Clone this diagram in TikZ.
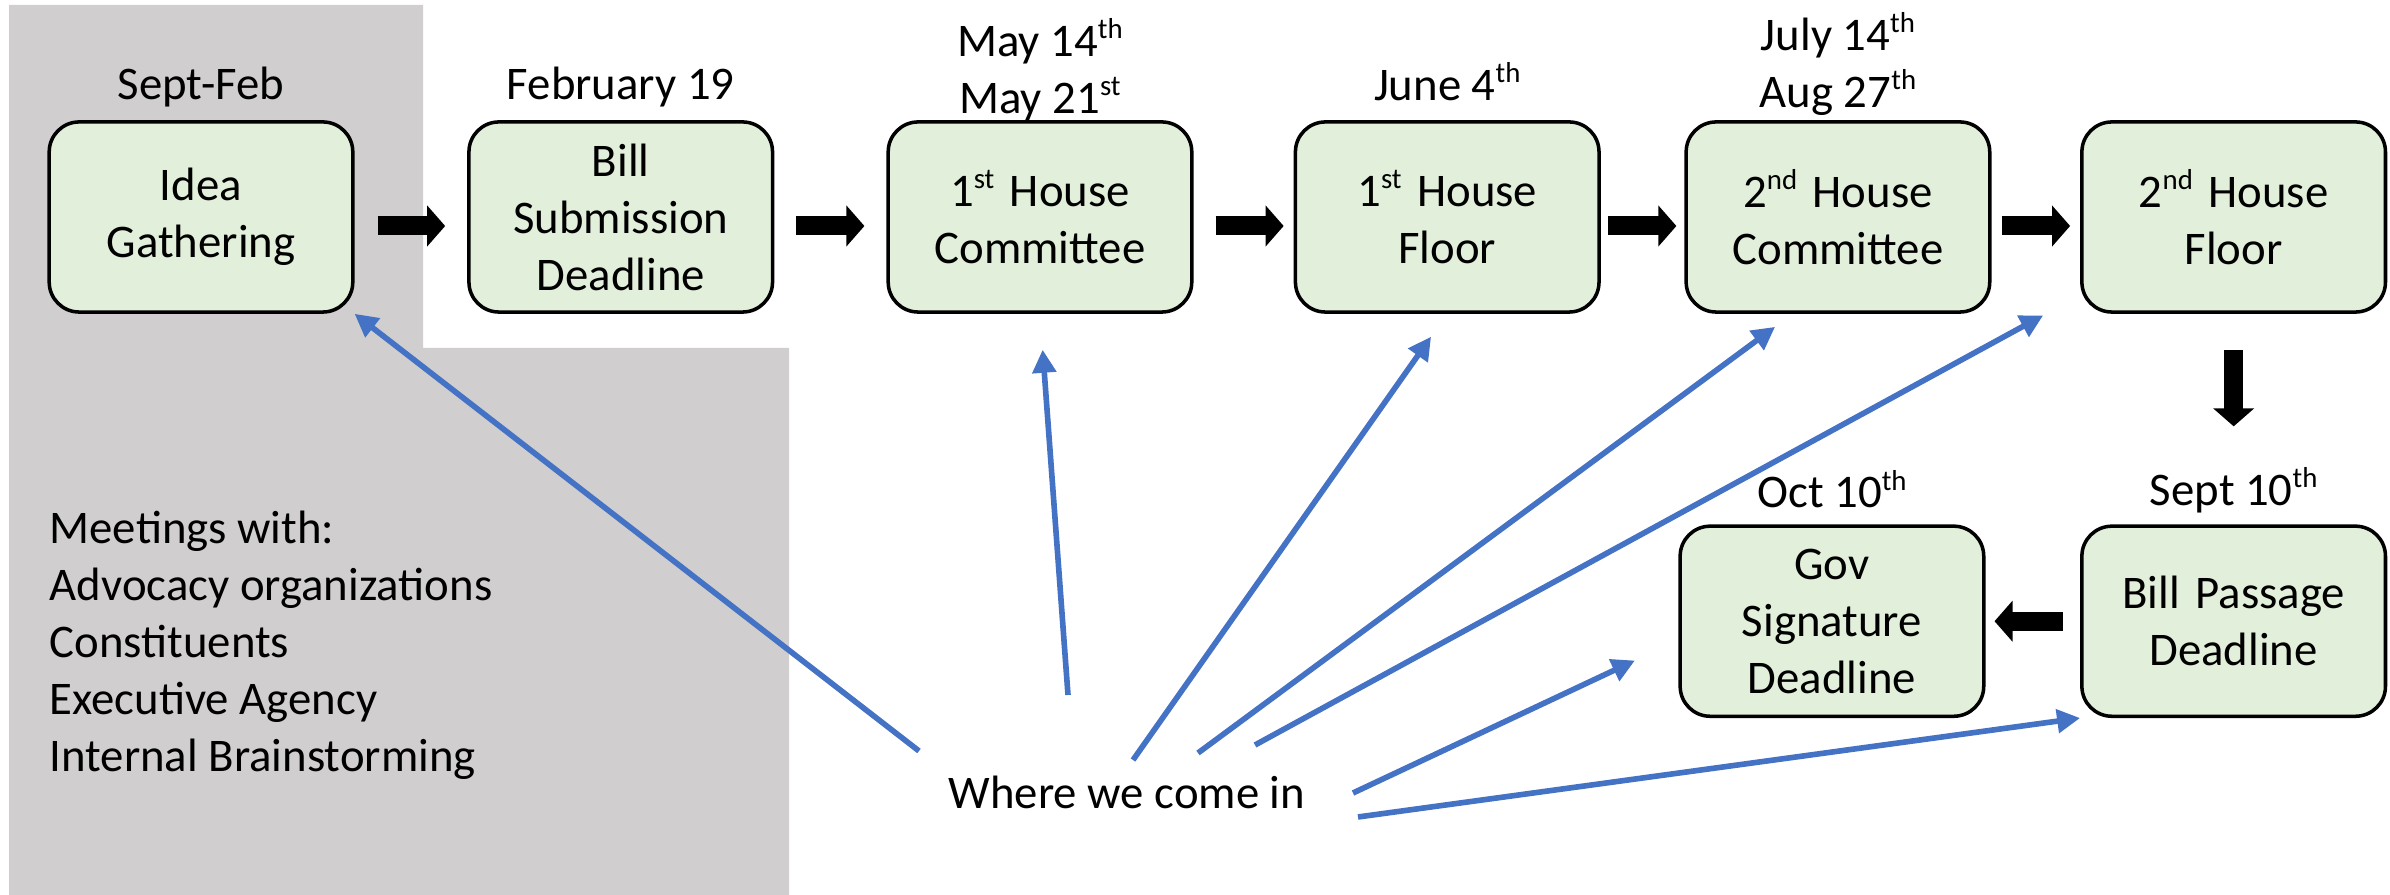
\documentclass[tikz,border=0pt]{standalone}
\usepackage{fontspec}
\setmainfont{Carlito}
\usetikzlibrary{arrows.meta}

\newcommand{\ordsup}[1]{\raisebox{0.8ex}{\fontsize{8.2}{8.2}\selectfont #1}}

\begin{document}
\begin{tikzpicture}[x=0.01cm, y=-0.01cm, node distance=4.2cm, font=\fontsize{13.3}{16.2}\selectfont]

	\definecolor{my_green_light}{RGB}{226,239,218}
\definecolor{my_gray_light}{RGB}{208,206,206}
\definecolor{my_blue}{RGB}{68,114,196}

\tikzstyle{block} = [rectangle, draw=black, line width=1pt, fill=my_green_light, text width=2.8cm, align=center, rounded corners=0.3cm, minimum width=2.94cm, minimum height=1.9cm]
\tikzstyle{datelabel} = [align=center]
\tikzstyle{notetext} = [align=left, inner sep=0pt]
\tikzstyle{step_arrow} = [draw, line width=0.19cm, -{Triangle[width=0.4cm, length=0.18cm]}]
\tikzstyle{entry_arrow} = [draw=my_blue, line width=1.6pt, -{Triangle[width=0.23cm, length=0.23cm]}]

	\useasboundingbox (0,0) rectangle (2390,895);

	% grey area behind the idea phase
	\fill[my_gray_light] (9,5) -- (423,5) -- (423,348) -- (789,348) -- (789,895) -- (9,895) -- cycle;

	\node [block] (idea) at (201,217) {Idea\\Gathering};
	\node [block, right of=idea, node distance=4.195cm] (bill) {Bill\\Submission\\Deadline};
	\node [block, right of=bill, node distance=4.19cm] (comm1) {1\ordsup{st} House\\Committee};
	\node [block, right of=comm1, node distance=4.07cm] (floor1) {1\ordsup{st} House\\Floor};
	\node [block, right of=floor1, node distance=3.905cm] (comm2) {2\ordsup{nd} House\\Committee};
	\node [block, right of=comm2, node distance=3.955cm] (floor2) {2\ordsup{nd} House\\Floor};
	\node [block, below of=floor2, node distance=4.04cm] (passage) {Bill Passage\\Deadline};
	\node [block, left of=passage, node distance=4.015cm] (gov) {Gov\\Signature\\Deadline};

	\node [datelabel, above of=idea, node distance=1.3cm] (d_idea) {Sept-Feb};
	\node [datelabel, above of=bill, node distance=1.3cm] (d_bill) {February 19};
	\node [datelabel, above of=comm1, node distance=1.47cm] (d_comm1) {May 14\ordsup{th}\\May 21\ordsup{st}};
	\node [datelabel, above of=floor1, node distance=1.35cm] (d_floor1) {June 4\ordsup{th}};
	\node [datelabel, above of=comm2, node distance=1.53cm] (d_comm2) {July 14\ordsup{th}\\Aug 27\ordsup{th}};
	\node [datelabel, above of=gov, node distance=1.32cm] (d_gov) {Oct 10\ordsup{th}};
	\node [datelabel, above of=passage, node distance=1.31cm] (d_passage) {Sept 10\ordsup{th}};

	\node [notetext, anchor=north west] (meetings) at (49,510) {Meetings with:\\Advocacy organizations\\Constituents\\Executive Agency\\Internal Brainstorming};
	\node (where) at (1127,792) {Where we come in};

	\coordinate (w1) at (919,751);
	\coordinate (w2) at (1068,695);
	\coordinate (w3) at (1133,760);
	\coordinate (w4) at (1198,753);
	\coordinate (w5) at (1255,745);
	\coordinate (w6) at (1353,793);
	\coordinate (w7) at (1358,817);

	\path [step_arrow, shorten <=0.23cm, shorten >=0.22cm] ([yshift=-0.09cm]idea.east) -- ([yshift=-0.09cm]bill.west);
	\path [step_arrow, shorten <=0.22cm, shorten >=0.22cm] ([yshift=-0.09cm]bill.east) -- ([yshift=-0.09cm]comm1.west);
	\path [step_arrow, shorten <=0.22cm, shorten >=0.10cm] ([yshift=-0.09cm]comm1.east) -- ([yshift=-0.09cm]floor1.west);
	\path [step_arrow, shorten <=0.07cm, shorten >=0.08cm] ([yshift=-0.09cm]floor1.east) -- ([yshift=-0.09cm]comm2.west);
	\path [step_arrow, shorten <=0.10cm, shorten >=0.10cm] ([yshift=-0.09cm]comm2.east) -- ([yshift=-0.09cm]floor2.west);
	\path [step_arrow, shorten <=0.36cm, shorten >=0.98cm] (floor2.south) -- (passage.north);
	\path [step_arrow, shorten <=0.17cm, shorten >=0.09cm] (passage.west) -- (gov.east);

	\path [entry_arrow] (w1) -- (idea.south east);
	\path [entry_arrow, shorten >=0.36cm] (w2) -- (comm1.south);
	\path [entry_arrow, shorten >=0.28cm] (w3) -- (floor1.south);
	\path [entry_arrow, shorten >=0.22cm] (w4) -- (comm2.245);
	\path [entry_arrow, shorten >=0.42cm] (w5) -- (floor2.207);
	\path [entry_arrow, shorten >=0.48cm] (w6) -- (gov.187);
	\path [entry_arrow] (w7) -- (passage.south west);

\end{tikzpicture}
\end{document}
